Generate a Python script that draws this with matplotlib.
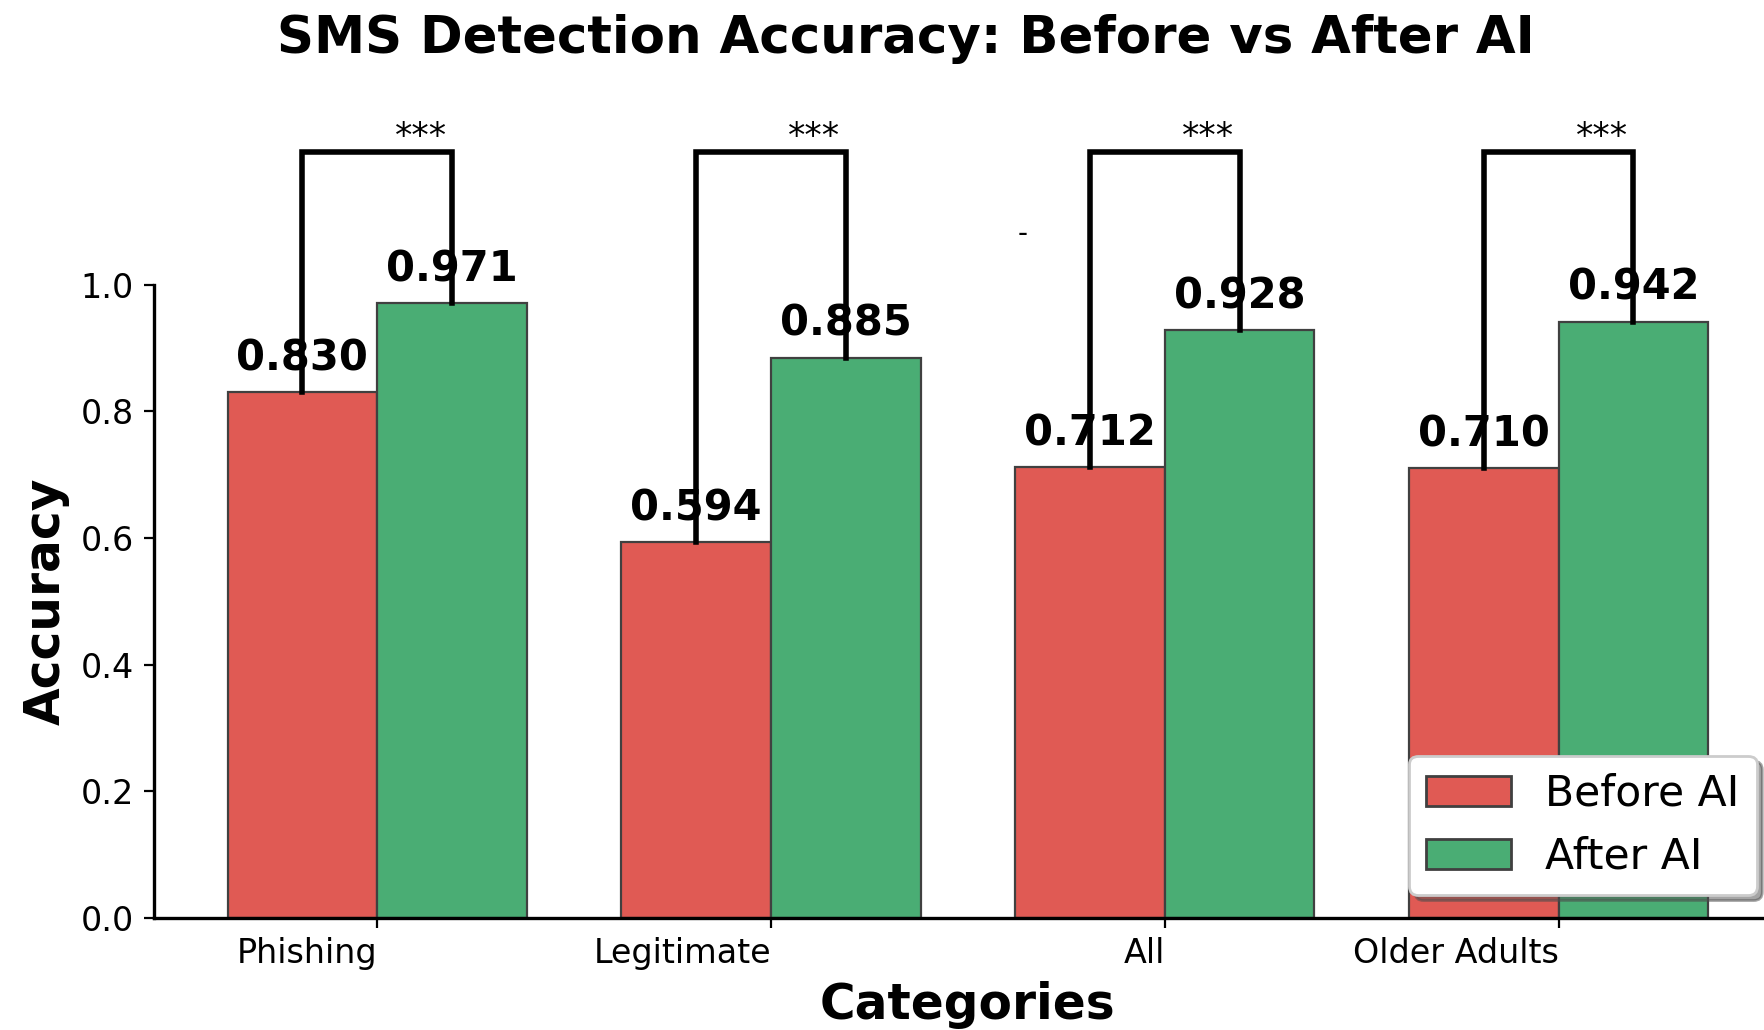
import numpy as np
import matplotlib.pyplot as plt
from matplotlib.patches import Patch

categories = ['Phishing', 'Legitimate', 'All', 'Older Adults']
before_ai = [0.830, 0.594, 0.712, 0.710]
after_ai = [0.971, 0.885, 0.928, 0.942]
stars = ['***', '***', '***', '***']

red = '#e05a54'
green = '#4aad74'

fig = plt.figure(figsize=(8.825, 5.15), dpi=200)
ax = fig.add_axes([0.0870, 0.1089, 0.9228, 0.6146])

x = np.arange(len(categories))
w = 0.38

ax.bar(x - w / 2, before_ai, w, color=red, edgecolor='#404040', linewidth=0.8)
ax.bar(x + w / 2, after_ai, w, color=green, edgecolor='#404040', linewidth=0.8)

# value labels over each bar
for i in range(len(categories)):
    ax.text(x[i] - w / 2, before_ai[i] + 0.02, f"{before_ai[i]:.3f}",
            ha='center', va='bottom', fontsize=15, fontweight='bold')
    ax.text(x[i] + w / 2, after_ai[i] + 0.02, f"{after_ai[i]:.3f}",
            ha='center', va='bottom', fontsize=15, fontweight='bold')

# significance brackets
top = 1.21
for i in range(len(categories)):
    x1 = x[i] - w / 2
    x2 = x[i] + w / 2
    ax.plot([x1, x1, x2, x2], [before_ai[i], top, top, after_ai[i]],
            color='black', lw=2, clip_on=False, solid_joinstyle='miter')
    ax.text(x[i] + 0.11, 1.217, stars[i], ha='center', va='baseline',
            fontsize=12.5)

ax.text(1.64, 1.08, '-', ha='center', va='center', fontsize=10)

ax.set_ylim(0, 1.0)
ax.set_yticks(np.arange(0, 1.01, 0.2))
ax.set_xticks(x)
ax.set_xticklabels(categories, ha='right')
ax.tick_params(axis='both', labelsize=12)

ax.spines['top'].set_visible(False)
ax.spines['right'].set_visible(False)
ax.spines['left'].set_bounds(0, 1)
ax.spines['left'].set_linewidth(1.2)
ax.spines['bottom'].set_linewidth(1.2)

ax.set_xlabel('Categories', fontsize=17.5, fontweight='bold')
ax.set_ylabel('Accuracy', fontsize=17.5, fontweight='bold')

handles = [Patch(facecolor=red, edgecolor='#404040', label='Before AI'),
           Patch(facecolor=green, edgecolor='#404040', label='After AI')]
ax.legend(handles=handles, loc='lower right', fontsize=15.3, shadow=True,
          fancybox=True, framealpha=1, borderaxespad=0,
          bbox_to_anchor=(0.9953, 0.1311), bbox_transform=fig.transFigure)

fig.text(0.513, 0.9485, 'SMS Detection Accuracy: Before vs After AI',
         ha='center', va='baseline', fontsize=18.5, fontweight='bold')

fig.savefig('out.png', dpi=200)
